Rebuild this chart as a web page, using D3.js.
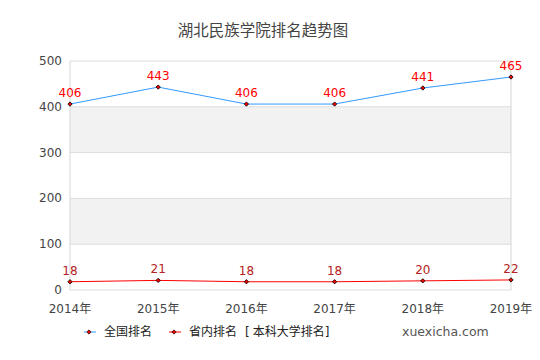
<!DOCTYPE html>
<html>
<head>
<meta charset="utf-8">
<script src="https://cdn.jsdelivr.net/npm/d3@7"></script>
<style>
  body { margin: 0; background: #fff; }
  text { font-family: "DejaVu Sans", "Noto Sans CJK SC", sans-serif; }
</style>
</head>
<body>
<svg id="chart" width="540" height="360"></svg>
<script>
const years = ["2014年", "2015年", "2016年", "2017年", "2018年", "2019年"];
const nationalRank = [406, 443, 406, 406, 441, 465];
const provinceRank = [18, 21, 18, 18, 20, 22];
const yTicks = [0, 100, 200, 300, 400, 500];

const W = 540, H = 360;
const margin = { top: 61, right: 29, bottom: 70, left: 70 };

const svg = d3.select("#chart");

const x = d3.scalePoint()
  .domain(years)
  .range([margin.left, W - margin.right]);

const y = d3.scaleLinear()
  .domain([0, 500])
  .range([H - margin.bottom, margin.top]);

// title
svg.append("text")
  .attr("x", 263).attr("y", 36)
  .attr("text-anchor", "middle")
  .attr("font-size", 15.5)
  .attr("fill", "#444")
  .text("湖北民族学院排名趋势图");

// shaded bands 100-200, 300-400
[[100, 200], [300, 400]].forEach(([a, b]) => {
  svg.append("rect")
    .attr("x", margin.left).attr("width", W - margin.right - margin.left)
    .attr("y", y(b)).attr("height", y(a) - y(b))
    .attr("fill", "#f2f2f2");
});

// gridlines
svg.append("g")
  .selectAll("line")
  .data(yTicks)
  .join("line")
  .attr("x1", margin.left).attr("x2", W - margin.right)
  .attr("y1", d => y(d)).attr("y2", d => y(d))
  .attr("stroke", "#dcdcdc");

// left + right borders
[margin.left, W - margin.right].forEach(px => {
  svg.append("line")
    .attr("x1", px).attr("x2", px)
    .attr("y1", y(500)).attr("y2", y(0))
    .attr("stroke", "#d6d6d6");
});

// y tick labels
svg.append("g")
  .selectAll("text")
  .data(yTicks)
  .join("text")
  .attr("x", margin.left - 8)
  .attr("y", d => y(d) + 4)
  .attr("text-anchor", "end")
  .attr("font-size", 12)
  .attr("fill", "#444")
  .text(d => d);

// x tick labels
svg.append("g")
  .selectAll("text")
  .data(years)
  .join("text")
  .attr("x", d => x(d))
  .attr("y", y(0) + 23)
  .attr("text-anchor", "middle")
  .attr("font-size", 12)
  .attr("fill", "#444")
  .text(d => d);

function drawSeries(values, lineColor, labelColor) {
  const pts = values.map((v, i) => [x(years[i]), y(v)]);
  svg.append("path")
    .attr("d", d3.line()(pts))
    .attr("fill", "none")
    .attr("stroke", lineColor)
    .attr("stroke-width", 1);
  svg.append("g")
    .selectAll("path")
    .data(pts)
    .join("path")
    .attr("transform", d => `translate(${d[0]},${d[1]})`)
    .attr("d", d3.symbol(d3.symbolDiamond2, 12)())
    .attr("fill", "#e00")
    .attr("stroke", "#000")
    .attr("stroke-width", 0.8);
  svg.append("g")
    .selectAll("text")
    .data(values)
    .join("text")
    .attr("x", (d, i) => x(years[i]))
    .attr("y", d => y(d) - 7)
    .attr("text-anchor", "middle")
    .attr("font-size", 12)
    .attr("fill", labelColor)
    .text(d => d);
}

drawSeries(nationalRank, "#3399ff", "#ff0000");
drawSeries(provinceRank, "#ff0000", "#b22222");

// legend
const legendY = 336;
const legendItems = [
  { label: ["全国排名"], color: "#3399ff", x: 84 },
  { label: ["省内排名", "[", "本科大学排名", "]"], color: "#ff0000", x: 169 }
];
const tspanDx = [0, 8, 3, 0];
legendItems.forEach(it => {
  svg.append("line")
    .attr("x1", it.x).attr("x2", it.x + 12)
    .attr("y1", legendY - 4).attr("y2", legendY - 4)
    .attr("stroke", it.color);
  svg.append("path")
    .attr("transform", `translate(${it.x + 5},${legendY - 4})`)
    .attr("d", d3.symbol(d3.symbolDiamond2, 12)())
    .attr("fill", "#e00")
    .attr("stroke", "#000")
    .attr("stroke-width", 0.6);
  const t = svg.append("text")
    .attr("x", it.x + 20).attr("y", legendY)
    .attr("font-size", 12)
    .attr("fill", "#222");
  it.label.forEach((s, i) => {
    t.append("tspan").attr("dx", tspanDx[i]).text(s);
  });
});

svg.append("text")
  .attr("x", 402).attr("y", legendY)
  .attr("font-size", 12.5)
  .attr("font-family", "DejaVu Sans Mono, monospace")
  .attr("fill", "#555")
  .text("xuexicha.com");
</script>
</body>
</html>
